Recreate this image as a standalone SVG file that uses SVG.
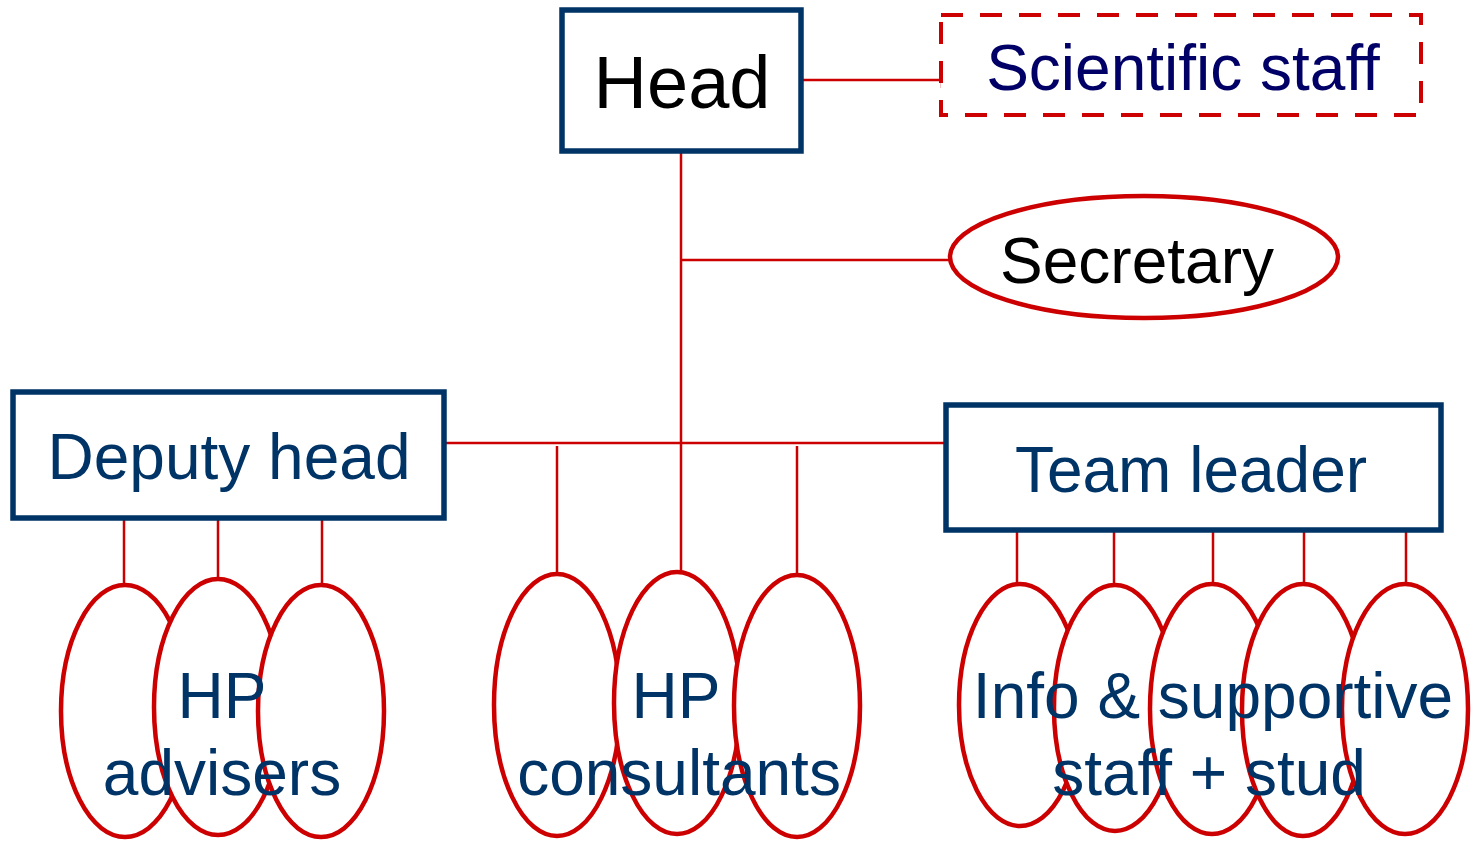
<svg xmlns="http://www.w3.org/2000/svg" width="1474" height="842" viewBox="0 0 1474 842">
<style>
.box{fill:#fff;stroke:#003366;stroke-width:5.5}
.dash{fill:#fff;stroke:#CC0000;stroke-width:4;stroke-dasharray:22 17}
.ell{fill:#fff;stroke:#CC0000;stroke-width:4.5}
.conn line{stroke:#CC0000;stroke-width:2.5}
text{font-family:"Liberation Sans",Arial,sans-serif;font-size:64px;text-anchor:middle}
.navy{fill:#003366}
.blk{fill:#000}
</style>
<rect width="1474" height="842" fill="#fff"/>
<g id="connectors" class="conn">
<line x1="803" y1="80" x2="942" y2="80"/>
<line x1="942" y1="72" x2="942" y2="88"/>
<line x1="681" y1="153" x2="681" y2="572"/>
<line x1="681" y1="260" x2="950" y2="260"/>
<line x1="445" y1="443" x2="946" y2="443"/>
<line x1="124" y1="519" x2="124" y2="584"/>
<line x1="218" y1="519" x2="218" y2="580"/>
<line x1="322" y1="517" x2="322" y2="584"/>
<line x1="557" y1="446" x2="557" y2="573"/>
<line x1="797" y1="446" x2="797" y2="582"/>
<line x1="1017" y1="531" x2="1017" y2="583"/>
<line x1="1114" y1="531" x2="1114" y2="583"/>
<line x1="1213" y1="531" x2="1213" y2="583"/>
<line x1="1304" y1="531" x2="1304" y2="583"/>
<line x1="1406" y1="526" x2="1406" y2="583"/>
</g>
<g id="head">
<rect class="box" x="562" y="10" width="239" height="141"/>
<text class="blk" x="682" y="108" style="font-size:74px">Head</text>
</g>
<g id="scientific-staff">
<rect class="dash" x="941" y="15" width="480" height="100"/>
<text x="1183" y="90" fill="#000066">Scientific staff</text>
</g>
<g id="secretary">
<ellipse class="ell" cx="1144" cy="257" rx="194" ry="61"/>
<text class="blk" x="1137" y="283">Secretary</text>
</g>
<g id="deputy-head">
<rect class="box" x="13" y="392" width="431" height="126"/>
<text class="navy" x="229" y="479">Deputy head</text>
</g>
<g id="team-leader">
<rect class="box" x="946" y="405" width="495" height="125"/>
<text class="navy" x="1191" y="492">Team leader</text>
</g>
<g id="hp-advisers">
<ellipse class="ell" cx="125" cy="711" rx="64" ry="126"/>
<ellipse class="ell" cx="218" cy="707" rx="64" ry="128"/>
<ellipse class="ell" cx="321" cy="711" rx="63" ry="126"/>
<text class="navy" x="222" y="718">HP</text>
<text class="navy" x="222" y="795">advisers</text>
</g>
<g id="hp-consultants">
<ellipse class="ell" cx="557" cy="705" rx="63" ry="131"/>
<ellipse class="ell" cx="677" cy="703" rx="63" ry="131"/>
<ellipse class="ell" cx="797" cy="706" rx="63" ry="131"/>
<text class="navy" x="676" y="718">HP</text>
<text class="navy" x="679" y="795">consultants</text>
</g>
<g id="info-staff">
<ellipse class="ell" cx="1020" cy="705" rx="61" ry="121"/>
<ellipse class="ell" cx="1115" cy="708" rx="61" ry="123"/>
<ellipse class="ell" cx="1212" cy="709" rx="62" ry="125"/>
<ellipse class="ell" cx="1303" cy="710" rx="61" ry="126"/>
<ellipse class="ell" cx="1405" cy="709" rx="63" ry="125"/>
<text class="navy" x="1213" y="718">Info &amp; supportive</text>
<text class="navy" x="1209" y="795">staff + stud</text>
</g>
</svg>
